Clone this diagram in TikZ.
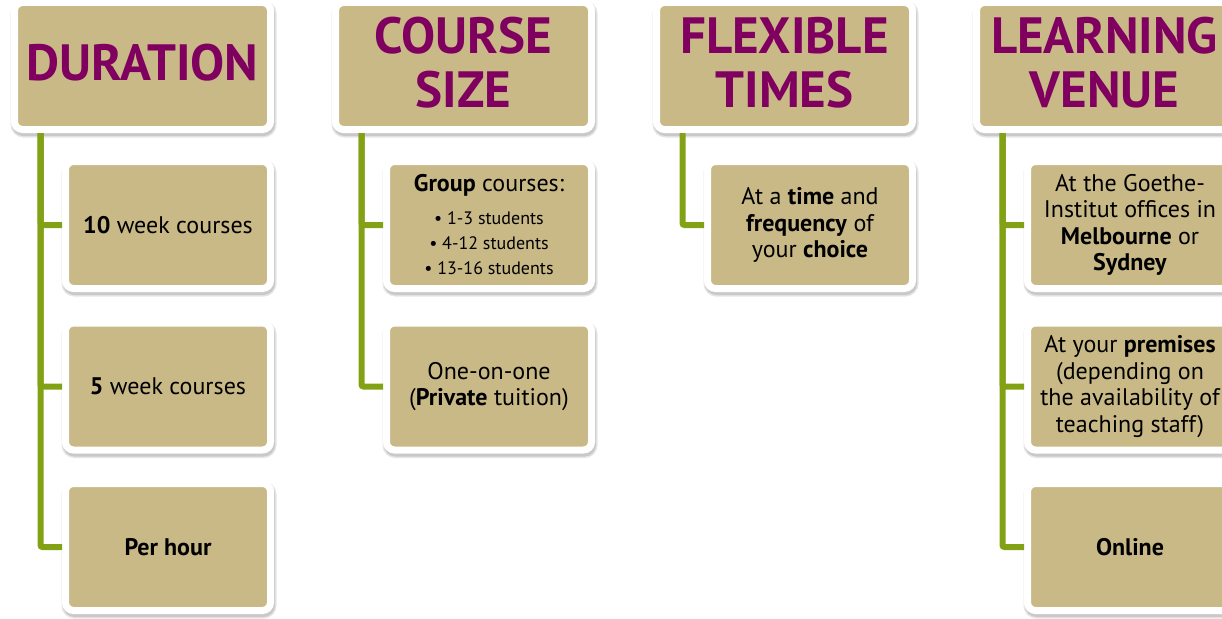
\documentclass[tikz,border=0pt]{standalone}
\usepackage{fontspec}
\setmainfont{PT Sans}
\usetikzlibrary{calc}
\definecolor{boxtan}{RGB}{201,185,135}
\definecolor{headpurple}{RGB}{128,0,96}
\definecolor{linegreen}{RGB}{130,161,20}
\tikzset{
  panel/.style={fill=boxtan, draw=white, line width=7pt, rounded corners=8pt,
    inner sep=0pt, align=center,
    preaction={draw=black, draw opacity=0.10, fill=black, fill opacity=0.10,
      line width=10pt, transform canvas={xshift=1pt,yshift=-3pt}},
    preaction={draw=black, draw opacity=0.12, fill=black, fill opacity=0.12,
      line width=7pt, transform canvas={xshift=1pt,yshift=-3pt}}},
  hdr/.style={panel, minimum width=256pt, minimum height=127pt, text depth=8pt,
    text=headpurple, font=\fontsize{51}{54}\selectfont\bfseries},
  item/.style={panel, minimum width=205pt, minimum height=127pt,
    font=\fontsize{24}{26.5}\selectfont},
  smallitem/.style={panel, minimum width=205pt, minimum height=127pt,
    font=\fontsize{18}{25}\selectfont},
  conn/.style={draw=linegreen, line width=6pt, rounded corners=2pt},
}
\begin{document}
\begin{tikzpicture}[x=1pt,y=-1pt]
\useasboundingbox (0,0) rectangle (1222,618);
% column 1
\node[hdr]  (h1)  at (142.5,66) {DURATION};
\node[item] (c1a) at (168,225) {\textbf{10} week courses};
\node[item] (c1b) at (168,386.5) {\textbf{5} week courses};
\node[item] (c1c) at (168,547) {\textbf{Per hour}};
% column 2
\node[hdr]  (h2)  at (463.5,66) {COURSE\\SIZE};
\node[smallitem] (c2a) at (489,225) {{\fontsize{24}{26}\selectfont\textbf{Group} courses:}\\[8pt]• 1-3 students\\• 4-12 students\\• 13-16 students};
\node[item] (c2b) at (489,386.5) {One-on-one\\(\textbf{Private} tuition)};
% column 3
\node[hdr]  (h3)  at (784.5,66) {FLEXIBLE\\TIMES};
\node[item] (c3a) at (810,225) {At a \textbf{time} and\\\textbf{frequency} of\\your \textbf{choice}};
% column 4
\node[hdr]  (h4)  at (1104.5,66) {LEARNING\\VENUE};
\node[item] (c4a) at (1130,225) {At the Goethe-\\Institut offices in\\\textbf{Melbourne} or\\\textbf{Sydney}};
\node[item] (c4b) at (1130,386.5) {At your \textbf{premises}\\(depending on\\the availability of\\teaching staff)};
\node[item] (c4c) at (1130,547) {\textbf{Online}};
% connectors
\coordinate (t1) at ($(h1.south west)+(29.5,0)$);
\coordinate (t2) at ($(h2.south west)+(29.5,0)$);
\coordinate (t3) at ($(h3.south west)+(29.5,0)$);
\coordinate (t4) at ($(h4.south west)+(29.5,0)$);
\draw[conn] (t1) |- (c1a.west);
\draw[conn] (t1) |- (c1b.west);
\draw[conn] (t1) |- (c1c.west);
\draw[conn] (t2) |- (c2a.west);
\draw[conn] (t2) |- (c2b.west);
\draw[conn] (t3) |- (c3a.west);
\draw[conn] (t4) |- (c4a.west);
\draw[conn] (t4) |- (c4b.west);
\draw[conn] (t4) |- (c4c.west);
\end{tikzpicture}
\end{document}
